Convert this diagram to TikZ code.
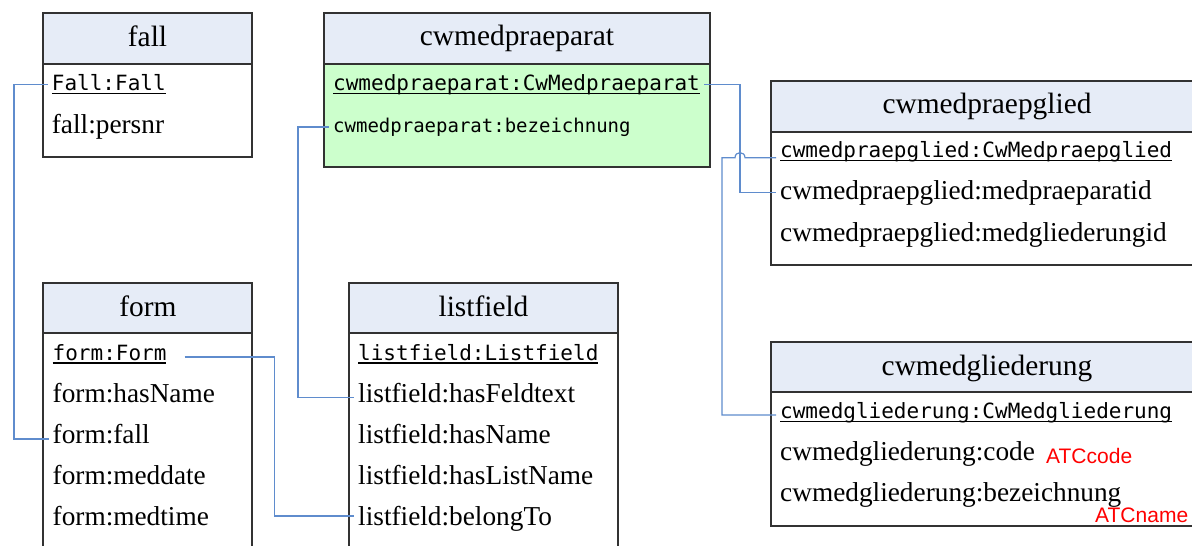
\documentclass[tikz,border=0pt]{standalone}
\usepackage{fontspec}
\setmainfont{Liberation Serif}
\newfontfamily\monof{DejaVu Sans Mono}
\newfontfamily\arialf{Liberation Sans}
\newcommand\myul[1]{\setbox0\hbox{#1}\rlap{\rule[-3.6pt]{\wd0}{1.3pt}}\box0}
\definecolor{hdrfill}{RGB}{230,236,247}
\definecolor{grnfill}{RGB}{204,255,204}
\definecolor{connblue}{RGB}{95,140,205}
\definecolor{boxline}{RGB}{50,50,50}
\begin{document}
\begin{tikzpicture}[x=1pt,y=-1pt,
  boxframe/.style={draw=boxline,line width=1.3pt},
  hdrtxt/.style={anchor=base,inner sep=0pt,font=\fontsize{29.4pt}{32pt}\selectfont},
  rowtxt/.style={anchor=base west,inner xsep=4pt,inner ysep=0pt,text height=18pt,text depth=4pt,font=\fontsize{27.3pt}{30pt}\selectfont},
  keytxt/.style={anchor=base west,inner xsep=4pt,inner ysep=0pt,text height=16pt,text depth=4pt,font=\monof\fontsize{21pt}{24pt}\selectfont},
  smonotxt/.style={anchor=base west,inner xsep=4pt,inner ysep=0pt,text height=14pt,text depth=4pt,font=\monof\fontsize{19pt}{22pt}\selectfont},
  redtxt/.style={anchor=base west,inner sep=0pt,text=red,font=\arialf\fontsize{21pt}{24pt}\selectfont},
  conn/.style={draw=connblue,line width=1.2pt}]
\useasboundingbox (0,0) rectangle (1192,546);
\clip (0,0) rectangle (1192,546);
\fill[white] (0,0) rectangle (1192,546);

% boxes
% fall
\fill[hdrfill] (43,13) rectangle (252,64);
\draw[boxframe] (43,13) rectangle (252,157);
\draw[boxframe] (43,64) -- (252,64);
% cwmedpraeparat
\fill[hdrfill] (324,13) rectangle (710,64);
\fill[grnfill] (324,64) rectangle (710,167);
\draw[boxframe] (324,13) rectangle (710,167);
\draw[boxframe] (324,64) -- (710,64);
% cwmedpraepglied
\fill[hdrfill] (771,81) rectangle (1203,132);
\draw[boxframe] (771,81) rectangle (1203,265);
\draw[boxframe] (771,132) -- (1203,132);
% cwmedgliederung
\fill[hdrfill] (771,342) rectangle (1203,392);
\draw[boxframe] (771,342) rectangle (1203,526);
\draw[boxframe] (771,392) -- (1203,392);
% form
\fill[hdrfill] (43,283) rectangle (252,333);
\draw[boxframe] (43,283) rectangle (252,570);
\draw[boxframe] (43,333) -- (252,333);
% listfield
\fill[hdrfill] (349,283) rectangle (618,333);
\draw[boxframe] (349,283) rectangle (618,570);
\draw[boxframe] (349,333) -- (618,333);

% texts
\node[hdrtxt] (fallh) at (147.5,46) {fall};
\node[keytxt] (fk) at (47.7,90.7) {\myul{Fall:Fall}};
\node[rowtxt] (fpers) at (47.7,133) {fall:persnr};

\node[hdrtxt] (cmph) at (517,45.7) {cwmedpraeparat};
\node[keytxt] (cmpk) at (329,90.7) {\myul{cwmedpraeparat:CwMedpraeparat}};
\node[smonotxt] (cmpb) at (329,132) {cwmedpraeparat:bezeichnung};

\node[hdrtxt] (cpgh) at (987,113.5) {cwmedpraepglied};
\node[keytxt] (cpgk) at (776,157.3) {\myul{cwmedpraepglied:CwMedpraepglied}};
\node[rowtxt] (cpgm) at (776,199.7) {cwmedpraepglied:medpraeparatid};
\node[rowtxt] (cpgg) at (776,241) {cwmedpraepglied:medgliederungid};

\node[hdrtxt] (cgh) at (987,375.5) {cwmedgliederung};
\node[keytxt] (cgk) at (776,418.3) {\myul{cwmedgliederung:CwMedgliederung}};
\node[rowtxt] (cgc) at (776,460.7) {cwmedgliederung:code};
\node[redtxt] (atcc) at (1046,463.3) {ATCcode};
\node[rowtxt] (cgb) at (776,501.7) {cwmedgliederung:bezeichnung};
\node[redtxt] (atcn) at (1095,522.3) {ATCname};

\node[hdrtxt] (fmh) at (148,316) {form};
\node[keytxt] (fmk) at (48.5,360) {\myul{form:Form}};
\node[rowtxt] (fmn) at (48.5,402.3) {form:hasName};
\node[rowtxt] (fmf) at (48.5,443.3) {form:fall};
\node[rowtxt] (fmd) at (48.5,484) {form:meddate};
\node[rowtxt] (fmt) at (48.5,525) {form:medtime};

\node[hdrtxt] (lfh) at (483.5,316) {listfield};
\node[keytxt] (lfk) at (354,360) {\myul{listfield:Listfield}};
\node[rowtxt] (lff) at (354,402.3) {listfield:hasFeldtext};
\node[rowtxt] (lfn) at (354,443.3) {listfield:hasName};
\node[rowtxt] (lfl) at (354,484) {listfield:hasListName};
\node[rowtxt] (lfb) at (354,525) {listfield:belongTo};

% connectors
\draw[conn] (fk.west) -- ++(-33.7,0) |- ([yshift=-2.7pt]fmf.west);
\draw[conn] (cmpb.west) -- ++(-31,0) |- ([yshift=-2.4pt]lff.west);
\draw[conn] (cmpk.east) -- ++(36,0) |- (cpgm.west);
\draw[conn] ([yshift=-6.4pt]cpgk.west) -- ++(-31,0) .. controls +(0,-6.7) and +(0,-6.7) .. ++(-10,0) -- ++(-13,0) |- ([yshift=-2.7pt]cgk.west);
\draw[conn] ([xshift=14pt,yshift=-3pt]fmk.east) -- ++(89.6,0) |- ([yshift=2pt]lfb.west);
\end{tikzpicture}
\end{document}
